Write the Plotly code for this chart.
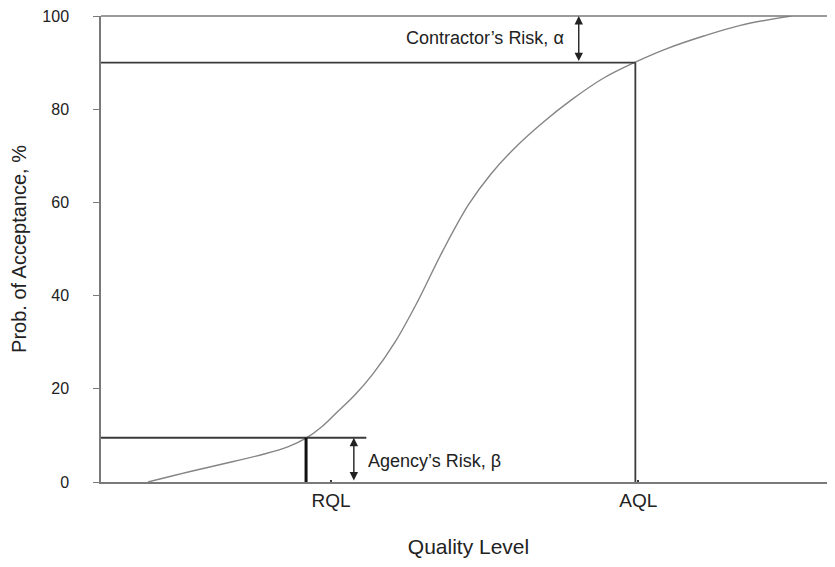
import plotly.graph_objects as go

# Operating characteristic curve
quality_x = [6.4, 12.0, 18.0, 22.2, 25.5, 27.9, 30.0, 32.0, 34.5, 37.0, 40.0, 43.0, 46.5, 50.0, 53.0, 56.5, 60.0, 64.0, 68.4, 72.7, 77.0, 82.0, 87.0, 93.9]
prob_accept = [0.0, 2.2, 4.4, 6.0, 7.6, 9.4, 11.8, 14.8, 18.6, 23.2, 30.0, 38.5, 49.6, 59.5, 66.0, 72.0, 77.0, 82.0, 86.7, 90.1, 93.0, 95.7, 98.0, 100.0]

rql_x = 27.9
aql_x = 72.7
alpha_level = 90.0
beta_level = 9.5
tick_vals = [31.3, 73.1]
tick_text = ["RQL", "AQL"]
y_ticks = [0, 20, 40, 60, 80, 100]

FONT = "Liberation Sans, Arial, Helvetica, sans-serif"
GRAY = "#7a7a7a"
DARK = "#3a3a3a"
TXT = "#222222"

fig = go.Figure()
fig.add_trace(go.Scatter(x=quality_x, y=prob_accept, mode="lines",
                         line=dict(color="#858585", width=1.4, shape="spline", smoothing=1.0),
                         hoverinfo="skip", showlegend=False))

# top line at 100 (paper-referenced so it is not clipped)
fig.add_shape(type="line", xref="paper", yref="paper", x0=0, x1=1, y0=1, y1=1,
              line=dict(color=GRAY, width=1.5))
# contractor's risk horizontal and AQL vertical
fig.add_shape(type="line", x0=0, x1=aql_x, y0=alpha_level, y1=alpha_level,
              line=dict(color=DARK, width=1.8))
fig.add_shape(type="line", x0=aql_x, x1=aql_x, y0=0, y1=alpha_level,
              line=dict(color=DARK, width=1.8))
# agency's risk horizontal and RQL vertical
fig.add_shape(type="line", x0=0, x1=36.1, y0=beta_level, y1=beta_level,
              line=dict(color=DARK, width=1.8))
fig.add_shape(type="line", x0=rql_x, x1=rql_x, y0=0, y1=beta_level,
              line=dict(color="#111111", width=3))

# arrows
fig.add_annotation(x=65.0, y=100, ax=65.0, ay=alpha_level, xref="x", yref="y",
                   axref="x", ayref="y", showarrow=True, arrowhead=2, startarrowhead=2,
                   arrowside="end+start", arrowsize=1.2, arrowwidth=1.4, arrowcolor=TXT, text="")
fig.add_annotation(x=34.4, y=beta_level, ax=34.4, ay=0, xref="x", yref="y",
                   axref="x", ayref="y", showarrow=True, arrowhead=2, startarrowhead=2,
                   arrowside="end+start", arrowsize=1.2, arrowwidth=1.4, arrowcolor=TXT, text="")

fig.add_annotation(x=63.3, y=95.2, xref="x", yref="y", text="Contractor’s Risk, α",
                   showarrow=False, xanchor="right", yanchor="middle",
                   font=dict(family=FONT, size=18, color=TXT))
fig.add_annotation(x=36.0, y=4.6, xref="x", yref="y", text="Agency’s Risk, β",
                   showarrow=False, xanchor="left", yanchor="middle",
                   font=dict(family=FONT, size=18, color=TXT))

fig.update_xaxes(range=[0, 100], showline=True, linecolor=GRAY, linewidth=1.5,
                 tickvals=tick_vals, ticktext=tick_text, ticks="inside", ticklen=2,
                 tickcolor=DARK, tickwidth=1.5, showgrid=False,
                 zeroline=False, automargin=False,
                 tickfont=dict(family=FONT, size=19, color=TXT),
                 title=dict(text="Quality Level", font=dict(family=FONT, size=21, color=TXT),
                            standoff=30))
fig.update_yaxes(range=[0, 100], showline=True, linecolor=GRAY, linewidth=1.5,
                 tickvals=y_ticks, ticks="outside", ticklen=6, tickcolor=GRAY, tickwidth=1.2,
                 showgrid=False, zeroline=False, ticklabelstandoff=21, automargin=False,
                 ticklabeloverflow="allow",
                 tickfont=dict(family=FONT, size=16, color=TXT),
                 title=dict(text="Prob. of Acceptance, %", font=dict(family=FONT, size=20, color=TXT),
                            standoff=10))

fig.update_layout(width=835, height=567, plot_bgcolor="white", paper_bgcolor="white",
                  margin=dict(l=93, r=7, t=8, b=93), showlegend=False)

fig.write_html("out.html")
